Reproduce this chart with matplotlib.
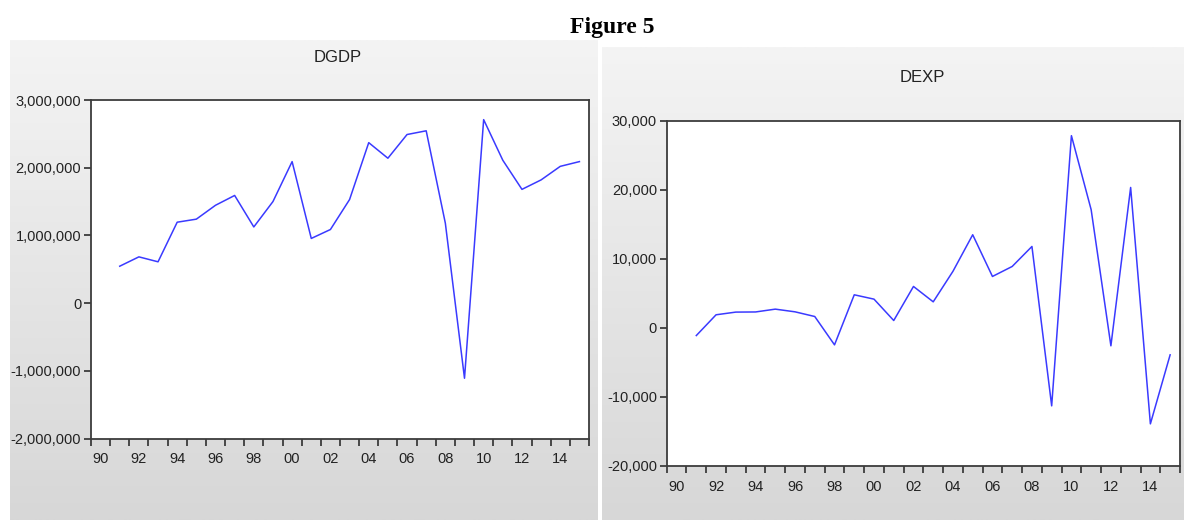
import numpy as np
import matplotlib
matplotlib.use('Agg')
import matplotlib.pyplot as plt
from matplotlib.ticker import FuncFormatter

# data (annual, 1991-2015)
YEARS = list(range(1991, 2016))
DGDP = [545000, 683000, 610000, 1195000, 1240000, 1445000, 1590000, 1125000, 1500000,
        2090000, 955000, 1087000, 1530000, 2370000, 2140000, 2490000, 2545000, 1180000,
        -1110000, 2710000, 2110000, 1680000, 1820000, 2020000, 2090000]
DEXP = [-1120, 1890, 2280, 2300, 2710, 2320, 1640, -2470, 4790, 4160, 1060, 6000, 3770,
        8200, 13500, 7450, 8900, 11800, -11320, 27870, 17130, -2610, 20360, -13930, -3920]
YEAR_LABELS = ['90', '92', '94', '96', '98', '00', '02', '04', '06', '08', '10', '12', '14']

W, H = 1184, 520
LINE_COLOR = '#3a3aff'
SPINE_COLOR = '#3c3c3c'
TEXT_COLOR = '#222222'

matplotlib.rc('font', family=['Liberation Sans', 'DejaVu Sans'], size=10)

fig = plt.figure(figsize=(W / 100, H / 100), dpi=100, facecolor='white')

# gray gradient panels behind the two charts (pixel coordinates)
bg = fig.add_axes([0, 0, 1, 1], zorder=-1)
grad = np.linspace(0, 1, 256).reshape(-1, 1)
cmap = matplotlib.colors.LinearSegmentedColormap.from_list('panel', ['#f4f4f4', '#d7d7d7'])
bg.imshow(grad, cmap=cmap, aspect='auto', extent=(10, 598, H, 40), origin='upper')
bg.imshow(grad, cmap=cmap, aspect='auto', extent=(602, W, H, 47), origin='upper')
bg.set_xlim(0, W)
bg.set_ylim(H, 0)
bg.axis('off')

fig.text(612 / W, 1 - 27 / H, 'Figure 5', ha='center', va='center', fontsize=17,
         fontweight='bold', family='Liberation Serif', color='black')


def px_rect(x0, y0, x1, y1):
    return [x0 / W, 1 - y1 / H, (x1 - x0) / W, (y1 - y0) / H]


def panel(rect, values, ylim, ystep, title, title_xy):
    ax = fig.add_axes(px_rect(*rect))
    ax.set_facecolor('white')
    ax.plot(np.array(YEARS) + 0.5, values, color=LINE_COLOR, linewidth=1.1)

    ax.set_xlim(1990, 2016)
    ax.set_ylim(*ylim)
    ax.set_yticks(np.arange(ylim[0], ylim[1] + 1, ystep))
    ax.yaxis.set_major_formatter(FuncFormatter(lambda v, p: '{:,.0f}'.format(v)))

    ax.set_xticks(range(1990, 2017))
    ax.set_xticklabels([])
    ax.set_xticks([1990.5 + 2 * i for i in range(len(YEAR_LABELS))], minor=True)
    ax.set_xticklabels(YEAR_LABELS, minor=True)

    for s in ax.spines.values():
        s.set_color(SPINE_COLOR)
        s.set_linewidth(1.3)

    ax.tick_params(which='major', direction='out', length=5, width=1.3, color=SPINE_COLOR,
                   labelsize=10.5, labelcolor=TEXT_COLOR, pad=2)
    ax.tick_params(axis='x', which='minor', length=0, pad=10, labelsize=10.5, labelcolor=TEXT_COLOR)

    fig.text(title_xy[0] / W, 1 - title_xy[1] / H, title, ha='center', va='center',
             fontsize=12, color=TEXT_COLOR)
    return ax


panel((91, 100, 589, 438.5), DGDP, (-2000000, 3000000), 1000000, 'DGDP', (338, 58))
panel((666.7, 121, 1180, 465.7), DEXP, (-20000, 30000), 10000, 'DEXP', (922, 78))

fig.savefig('out.png', dpi=100, facecolor='white')
